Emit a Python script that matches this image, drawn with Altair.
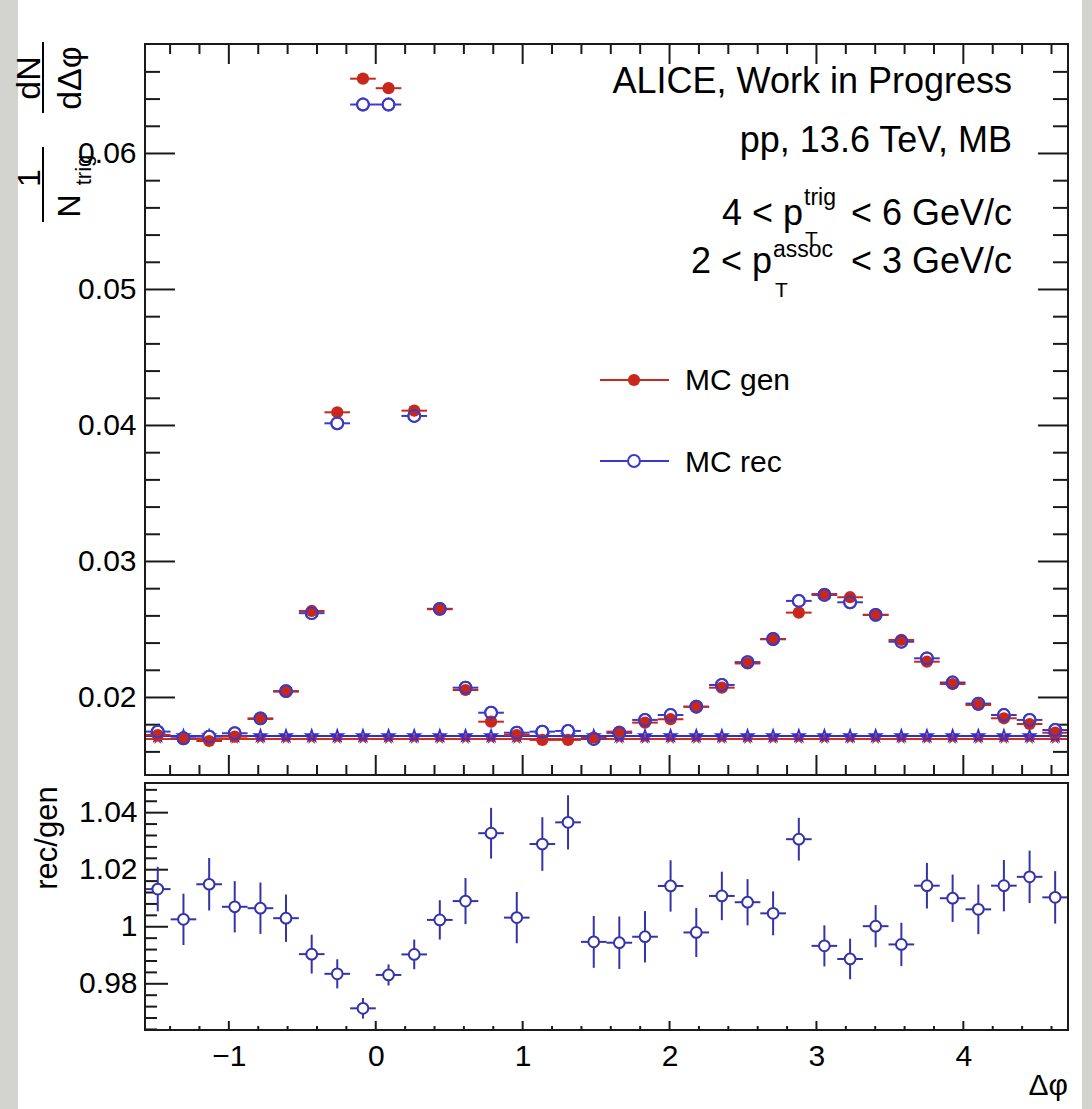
import altair as alt
import pandas as pd

PI = 3.141592653589793

# ---------------- data ----------------
dphi = [-1.484, -1.309, -1.134, -0.960, -0.785, -0.611, -0.436, -0.262, -0.087,
        0.087, 0.262, 0.436, 0.611, 0.785, 0.960, 1.134, 1.309, 1.484,
        1.658, 1.833, 2.007, 2.182, 2.356, 2.531, 2.705, 2.880, 3.054, 3.229,
        3.403, 3.578, 3.752, 3.927, 4.102, 4.276, 4.451, 4.625]
half_bin = 0.0873

gen = [0.01724, 0.01695, 0.01680, 0.01712, 0.01842, 0.02043, 0.02636, 0.04097, 0.06550, 0.06480,
       0.04109, 0.02649, 0.02055, 0.01822, 0.01724, 0.01688, 0.01688, 0.01704, 0.01749, 0.01815,
       0.01840, 0.01932, 0.02072, 0.02250, 0.02428, 0.02624, 0.02761, 0.02737, 0.02607, 0.02423,
       0.02263, 0.02099, 0.01945, 0.01847, 0.01805, 0.01741]
rec = [0.01749, 0.01700, 0.01712, 0.01737, 0.01846, 0.02047, 0.02620, 0.04016, 0.06360, 0.06360,
       0.04070, 0.02652, 0.02072, 0.01888, 0.01741, 0.01749, 0.01754, 0.01695, 0.01740, 0.01835,
       0.01871, 0.01932, 0.02092, 0.02260, 0.02430, 0.02710, 0.02754, 0.02700, 0.02608, 0.02410,
       0.02288, 0.02110, 0.01955, 0.01871, 0.01835, 0.01761]

baseline_gen = 0.01695
baseline_rec = 0.01717

ratio = [1.0132, 1.0026, 1.0149, 1.0070, 1.0065, 1.0030, 0.9904, 0.9835, 0.9714, 0.9831,
         0.9903, 1.0024, 1.0090, 1.0328, 1.0032, 1.0290, 1.0366, 0.9947, 0.9944, 0.9965,
         1.0143, 0.9980, 1.0108, 1.0086, 1.0047, 1.0307, 0.9933, 0.9887, 1.0002, 0.9938,
         1.0144, 1.0100, 1.0061, 1.0144, 1.0175, 1.0103]
ratio_err = [0.0078, 0.0090, 0.0092, 0.0090, 0.0090, 0.0083, 0.0068, 0.0051, 0.0036, 0.0037,
             0.0052, 0.0069, 0.0081, 0.0089, 0.0090, 0.0094, 0.0095, 0.0091, 0.0092, 0.0090,
             0.0090, 0.0086, 0.0085, 0.0081, 0.0077, 0.0075, 0.0072, 0.0071, 0.0074, 0.0076,
             0.0080, 0.0083, 0.0087, 0.0090, 0.0092, 0.0092]

# axis ticks
x_major = [-1, 0, 1, 2, 3, 4]
x_minor = [-1.4, -1.2, -0.8, -0.6, -0.4, -0.2, 0.2, 0.4, 0.6, 0.8, 1.2, 1.4, 1.6, 1.8,
           2.2, 2.4, 2.6, 2.8, 3.2, 3.4, 3.6, 3.8, 4.2, 4.4, 4.6]
top_y_major = [0.02, 0.03, 0.04, 0.05, 0.06]
top_y_minor = [0.016, 0.018, 0.022, 0.024, 0.026, 0.028, 0.032, 0.034, 0.036, 0.038,
               0.042, 0.044, 0.046, 0.048, 0.052, 0.054, 0.056, 0.058, 0.062, 0.064, 0.066]
bot_y_major = [0.98, 1.0, 1.02, 1.04]
bot_y_minor = [0.964, 0.968, 0.972, 0.976, 0.984, 0.988, 0.992, 0.996, 1.004, 1.008,
               1.012, 1.016, 1.024, 1.028, 1.032, 1.036, 1.044, 1.048]

# ---------------- style ----------------
FONT = "Liberation Sans"
RED = "#c8281c"
BLUE = "#3a3ac4"
RBLUE = "#3434a8"
LRED = "#d2301f"
LBLUE = "#2f2fd2"
FRAME = "#1a1a1a"
W = 923
H_TOP = 731
H_BOT = 247
OX, OY = 145, 44

STAR = ("M0,-1L0.225,-0.309L0.951,-0.309L0.363,0.118L0.588,0.809L0,0.382"
        "L-0.588,0.809L-0.363,0.118L-0.951,-0.309L-0.225,-0.309Z")

xscale = alt.Scale(domain=[-PI / 2, 3 * PI / 2], nice=False, zero=False)
ytop = alt.Scale(domain=[0.0143, 0.06805], nice=False, zero=False)
ybot = alt.Scale(domain=[0.9638, 1.0504], nice=False, zero=False)


def label_axis(values, expr, pad, labels=True):
    return alt.Axis(values=values, labelExpr=expr, ticks=False, domain=False, labels=labels,
                    grid=False, labelFontSize=30, labelFont=FONT, labelColor="black",
                    labelPadding=pad, title=None, zindex=5, labelFlush=False)


# identical axis objects used by every layer of a panel (so they merge cleanly)
AX_TOP_X = label_axis(x_major, "format(datum.value, 'd')", 11, labels=False)
AX_TOP_Y = label_axis(top_y_major, "format(datum.value, '.2f')", 9)
AX_BOT_X = label_axis(x_major, "format(datum.value, 'd')", 11)
AX_BOT_Y = label_axis(bot_y_major, "datum.value == 1 ? '1' : format(datum.value, '.2f')", 8)

one = pd.DataFrame({"k": [0]})

df = pd.DataFrame({
    "dphi": dphi,
    "lo": [d - half_bin for d in dphi],
    "hi": [d + half_bin for d in dphi],
    "gen": gen,
    "rec": rec,
    "ratio": ratio,
    "rlo": [r - e for r, e in zip(ratio, ratio_err)],
    "rhi": [r + e for r, e in zip(ratio, ratio_err)],
})
base_gen_df = pd.DataFrame({"level": [baseline_gen]})
base_rec_df = pd.DataFrame({"level": [baseline_rec]})
star_gen = pd.DataFrame({"dphi": dphi, "level": [baseline_gen] * len(dphi)})
star_rec = pd.DataFrame({"dphi": dphi, "level": [baseline_rec] * len(dphi)})


def XT(field):
    return alt.X(field, type="quantitative", scale=xscale, axis=AX_TOP_X)


def YT(field):
    return alt.Y(field, type="quantitative", scale=ytop, axis=AX_TOP_Y)


def XB(field):
    return alt.X(field, type="quantitative", scale=xscale, axis=AX_BOT_X)


def YB(field):
    return alt.Y(field, type="quantitative", scale=ybot, axis=AX_BOT_Y)


def text(txt, x, y, size, align="left", angle=0, baseline="alphabetic"):
    kw = dict(text=txt, align=align, baseline=baseline, fontSize=size, font=FONT, color="black")
    if angle:
        kw["angle"] = angle
    return alt.Chart(one).mark_text(**kw).encode(x=alt.value(x), y=alt.value(y))


def yticks(vals, Y, x0, x1):
    return alt.Chart(pd.DataFrame({"v": vals})).mark_rule(color=FRAME, strokeWidth=2).encode(
        y=Y("v"), x=alt.value(x0), x2=alt.value(x1))


def xticks(vals, X, y0, y1):
    return alt.Chart(pd.DataFrame({"v": vals})).mark_rule(color=FRAME, strokeWidth=2).encode(
        x=X("v"), y=alt.value(y0), y2=alt.value(y1))


def frame(h):
    return alt.Chart(one).mark_rect(filled=False, stroke=FRAME, strokeWidth=2).encode(
        x=alt.value(0), x2=alt.value(W), y=alt.value(0), y2=alt.value(h))


# ---------------- top panel ----------------
strip_left = alt.Chart(one).mark_rect(color="#d3d3cf").encode(
    x=alt.value(-OX), x2=alt.value(18 - OX), y=alt.value(-OY), y2=alt.value(1109 - OY))
strip_right = alt.Chart(one).mark_rect(color="#d3d3cf").encode(
    x=alt.value(1082 - OX), x2=alt.value(1092 - OX), y=alt.value(-OY), y2=alt.value(1109 - OY))

top_ticks = [
    yticks(top_y_major, YT, 0, 30), yticks(top_y_minor, YT, 0, 15),
    yticks(top_y_major, YT, W - 30, W), yticks(top_y_minor, YT, W - 15, W),
    xticks(x_major, XT, H_TOP - 20, H_TOP), xticks(x_minor, XT, H_TOP - 10, H_TOP),
    xticks(x_major, XT, 0, 20), xticks(x_minor, XT, 0, 10),
]

base_gen_line = alt.Chart(base_gen_df).mark_rule(color=LRED, strokeWidth=2).encode(
    y=YT("level"), x=alt.value(0), x2=alt.value(W))
base_rec_line = alt.Chart(base_rec_df).mark_rule(color=LBLUE, strokeWidth=2).encode(
    y=YT("level"), x=alt.value(0), x2=alt.value(W))
stars_gen = alt.Chart(star_gen).mark_point(shape=STAR, filled=True, color=LRED, size=150, opacity=1).encode(
    x=XT("dphi"), y=YT("level"))
stars_rec = alt.Chart(star_rec).mark_point(shape=STAR, filled=False, color=LBLUE, strokeWidth=1.6,
                                           size=150, opacity=1).encode(
    x=XT("dphi"), y=YT("level"))

rec_err = alt.Chart(df).mark_rule(color=BLUE, strokeWidth=2).encode(
    x=XT("lo"), x2="hi", y=YT("rec"))
rec_fill = alt.Chart(df).mark_point(shape="circle", filled=True, fill="white", stroke=BLUE,
                                    strokeWidth=2, size=140, opacity=1).encode(
    x=XT("dphi"), y=YT("rec"))
gen_err = alt.Chart(df).mark_rule(color=RED, strokeWidth=2).encode(
    x=XT("lo"), x2="hi", y=YT("gen"))
gen_pts = alt.Chart(df).mark_point(shape="circle", filled=True, color=RED, size=150, opacity=1).encode(
    x=XT("dphi"), y=YT("gen"))
rec_ring = alt.Chart(df).mark_point(shape="circle", filled=False, color=BLUE, strokeWidth=2,
                                    size=140, opacity=1).encode(
    x=XT("dphi"), y=YT("rec"))

# annotations (pixel positions relative to the top plot area)
R = 1012 - OX
annot = [
    text("ALICE, Work in Progress", R, 93 - OY, 36, align="right"),
    text("pp, 13.6 TeV, MB", R, 152 - OY, 36, align="right"),
    text("4 < p", 803 - OX, 225 - OY, 36, align="right"),
    text("trig", 804 - OX, 205 - OY, 23),
    text("T", 805 - OX, 246 - OY, 21),
    text("< 6 GeV/c", R, 225 - OY, 36, align="right"),
    text("2 < p", 772 - OX, 273 - OY, 36, align="right"),
    text("assoc", 773 - OX, 257 - OY, 23),
    text("T", 775 - OX, 297 - OY, 21),
    text("< 3 GeV/c", R, 273 - OY, 36, align="right"),
    text("MC gen", 685 - OX, 390 - OY, 30),
    text("MC rec", 685 - OX, 472 - OY, 30),
    # y title: 1/N_trig dN/dΔφ (rotated)
    text("dN", 40 - OX, 78 - OY, 34, align="center", angle=270),
    text("dΔφ", 81 - OX, 78 - OY, 34, align="center", angle=270),
    text("1", 40 - OX, 178 - OY, 32, align="center", angle=270),
    text("N", 80 - OX, 206 - OY, 32, align="center", angle=270),
    text("trig", 91 - OX, 170 - OY, 22, align="center", angle=270),
]
frac_bar1 = alt.Chart(one).mark_rule(color="black", strokeWidth=2).encode(
    x=alt.value(43 - OX), y=alt.value(42 - OY), y2=alt.value(113 - OY))
frac_bar2 = alt.Chart(one).mark_rule(color="black", strokeWidth=2).encode(
    x=alt.value(43 - OX), y=alt.value(147 - OY), y2=alt.value(222 - OY))

leg_gen_line = alt.Chart(one).mark_rule(color=RED, strokeWidth=2).encode(
    x=alt.value(600 - OX), x2=alt.value(669 - OX), y=alt.value(380 - OY))
leg_gen_pt = alt.Chart(one).mark_point(shape="circle", filled=True, color=RED, size=150, opacity=1).encode(
    x=alt.value(634 - OX), y=alt.value(380 - OY))
leg_rec_line = alt.Chart(one).mark_rule(color=BLUE, strokeWidth=2).encode(
    x=alt.value(600 - OX), x2=alt.value(669 - OX), y=alt.value(461 - OY))
leg_rec_pt = alt.Chart(one).mark_point(shape="circle", filled=True, fill="white", stroke=BLUE,
                                       strokeWidth=2, size=140, opacity=1).encode(
    x=alt.value(634 - OX), y=alt.value(461 - OY))

top = alt.layer(
    strip_left, strip_right, *top_ticks,
    base_gen_line, base_rec_line, stars_gen, stars_rec,
    rec_err, rec_fill, gen_err, gen_pts, rec_ring,
    frame(H_TOP), *annot, frac_bar1, frac_bar2,
    leg_gen_line, leg_gen_pt, leg_rec_line, leg_rec_pt,
).properties(width=W, height=H_TOP)

# ---------------- bottom panel ----------------
OYB = 783
bot_ticks = [
    yticks(bot_y_major, YB, 0, 23), yticks(bot_y_minor, YB, 0, 12),
    xticks(x_major, XB, H_BOT - 9, H_BOT), xticks(x_minor, XB, H_BOT - 4, H_BOT),
]
r_xerr = alt.Chart(df).mark_rule(color=RBLUE, strokeWidth=2).encode(
    x=XB("lo"), x2="hi", y=YB("ratio"))
r_yerr = alt.Chart(df).mark_rule(color=RBLUE, strokeWidth=2).encode(
    x=XB("dphi"), y=YB("rlo"), y2="rhi")
r_pts = alt.Chart(df).mark_point(shape="circle", filled=True, fill="white", stroke=RBLUE,
                                 strokeWidth=2, size=115, opacity=1).encode(
    x=XB("dphi"), y=YB("ratio"))
bot_text = [
    text("rec/gen", 57 - OX, 838 - OYB, 31, align="center", angle=270),
    text("Δφ", 1068 - OX, 1095 - OYB, 30, align="right"),
]

bottom = alt.layer(
    *bot_ticks, r_xerr, r_yerr, r_pts, frame(H_BOT), *bot_text
).properties(width=W, height=H_BOT)

chart = alt.vconcat(top, bottom, spacing=8, bounds="flush").properties(
    padding=0, background="white"
).configure_view(stroke=None)

chart.save("out.html", embed_options={"renderer": "svg", "actions": False})
